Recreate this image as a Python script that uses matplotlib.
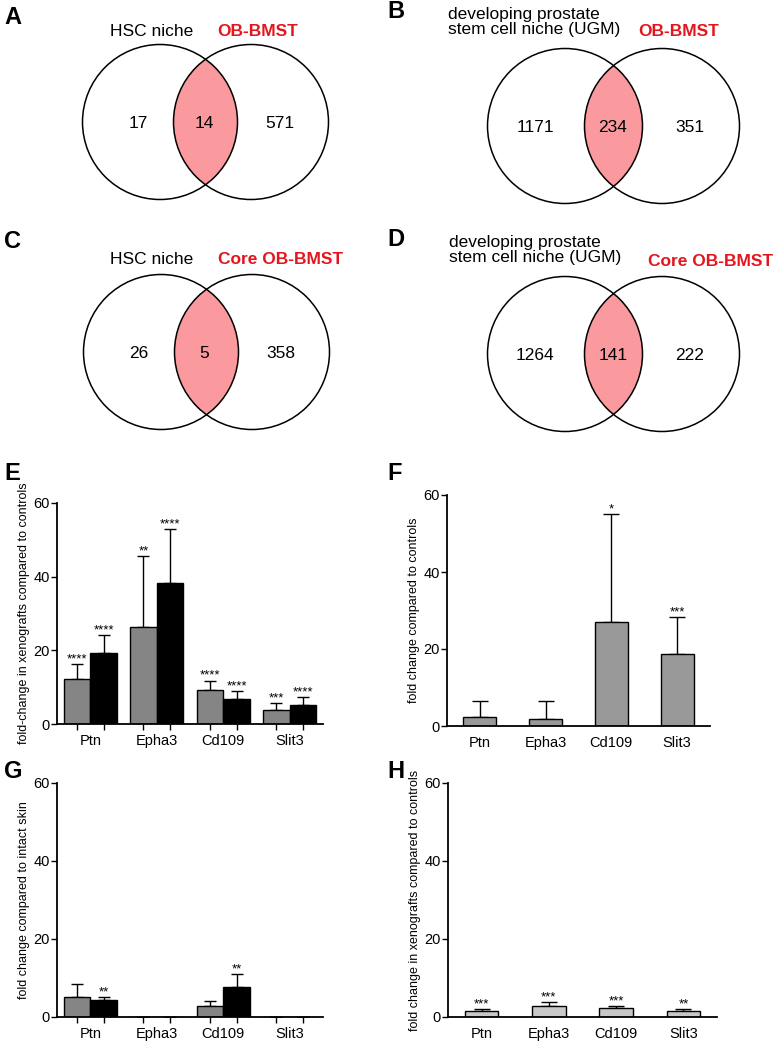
import numpy as np
import matplotlib
matplotlib.use("Agg")
from matplotlib import pyplot as plt
from matplotlib.patches import Circle

plt.rcParams['font.family'] = ['Liberation Sans', 'DejaVu Sans']

# ---- Venn data (A-D)
venn_left_labels = ["HSC niche", "developing prostate\nstem cell niche (UGM)",
                    "HSC niche", "developing prostate\nstem cell niche (UGM)"]
venn_right_labels = ["OB-BMST", "OB-BMST", "Core OB-BMST", "Core OB-BMST"]
only_left = [17, 1171, 26, 1264]
both = [14, 234, 5, 141]
only_right = [571, 351, 358, 222]

# ---- bar data (E-H)
genes = ["Ptn", "Epha3", "Cd109", "Slit3"]
e_grey = [12.3, 26.2, 9.3, 3.9]
e_grey_err = [4.0, 19.3, 2.5, 1.8]
e_black = [19.3, 38.3, 6.9, 5.2]
e_black_err = [4.9, 14.7, 2.1, 2.0]
e_grey_stars = ["****", "**", "****", "***"]
e_black_stars = ["****", "****", "****", "****"]

f_vals = [2.4, 1.8, 27.0, 18.7]
f_err = [4.1, 4.7, 28.0, 9.6]
f_stars = ["", "", "*", "***"]

g_grey = [5.1, 0.0, 2.9, 0.0]
g_grey_err = [3.4, 0.0, 1.1, 0.0]
g_black = [4.3, 0.0, 7.7, 0.0]
g_black_err = [0.8, 0.0, 3.3, 0.0]
g_grey_stars = ["", "", "", ""]
g_black_stars = ["**", "", "**", ""]

h_vals = [1.5, 2.8, 2.2, 1.5]
h_err = [0.5, 1.0, 0.6, 0.5]
h_stars = ["***", "***", "***", "**"]

W, H = 782, 1041
fig = plt.figure(figsize=(W / 100, H / 100), dpi=100)

# overlay axes in pixel coords for venns and panel letters
ov = fig.add_axes([0, 0, 1, 1])
ov.set_xlim(0, W)
ov.set_ylim(H, 0)
ov.axis('off')

pink = '#fa9a9e'
red = '#e3161e'
r = 77.5
centers = [((160, 122), (251, 122)), ((565, 126), (662, 126)),
           ((161, 352), (252, 352)), ((565, 354), (662, 354))]
num_x = [(138, 204, 280), (535, 613, 690), (139, 204, 281), (535, 613, 690)]

for i in range(4):
    (lx, ly), (rx, ry) = centers[i]
    clip = Circle((rx, ry), r, transform=ov.transData)
    lens = Circle((lx, ly), r, fc=pink, ec='none')
    ov.add_patch(lens)
    lens.set_clip_path(clip)
    ov.add_patch(Circle((lx, ly), r, fc='none', ec='black', lw=1.1))
    ov.add_patch(Circle((rx, ry), r, fc='none', ec='black', lw=1.1))
    for x, v in zip(num_x[i], [only_left[i], both[i], only_right[i]]):
        ov.text(x, ly + 1, str(v), ha='center', va='center', fontsize=12.5)

# labels above venns
ov.text(152, 32, venn_left_labels[0], ha='center', va='center', fontsize=12.5)
ov.text(217, 32, venn_right_labels[0], ha='left', va='center', fontsize=12.5,
        color=red, fontweight='bold')
ov.text(448, 22, venn_left_labels[1], ha='left', va='center', fontsize=12.5,
        linespacing=1.05)
ov.text(638, 32, venn_right_labels[1], ha='left', va='center', fontsize=12.5,
        color=red, fontweight='bold')
ov.text(152, 260, venn_left_labels[2], ha='center', va='center', fontsize=12.5)
ov.text(218, 260, venn_right_labels[2], ha='left', va='center', fontsize=12.5,
        color=red, fontweight='bold')
ov.text(449, 250, venn_left_labels[3], ha='left', va='center', fontsize=12.5,
        linespacing=1.05)
ov.text(648, 261, venn_right_labels[3], ha='left', va='center', fontsize=12.5,
        color=red, fontweight='bold')

letters = [("A", 4, 17), ("B", 387, 11), ("C", 4, 242), ("D", 387, 240),
           ("E", 4, 474), ("F", 387, 474), ("G", 4, 771), ("H", 387, 771)]
for t, x, y in letters:
    ov.text(x, y, t, ha='left', va='center', fontsize=17, fontweight='bold')


def px_axes(x0, x1, ytop, ybot):
    return fig.add_axes([x0 / W, 1 - ybot / H, (x1 - x0) / W, (ybot - ytop) / H])


def style(ax, ylabel, ticks_at):
    ax.set_ylim(0, 60)
    ax.set_xlim(-0.5, 3.5)
    ax.set_yticks([0, 20, 40, 60])
    ax.spines['top'].set_visible(False)
    ax.spines['right'].set_visible(False)
    ax.spines['left'].set_linewidth(1.3)
    ax.spines['bottom'].set_linewidth(1.3)
    ax.tick_params(axis='y', labelsize=10.5, length=4, width=1, pad=1)
    x = np.arange(4)
    ax.set_xticks(x)
    ax.set_xticklabels(genes, fontsize=10.5)
    ax.tick_params(axis='x', which='major', length=0, pad=7)
    ax.set_xticks(ticks_at, minor=True)
    ax.tick_params(axis='x', which='minor', length=4, width=1)
    ax.set_ylabel(ylabel, fontsize=9, labelpad=3)
    ax.patch.set_alpha(0)


def bars(ax, pos, vals, err, color, width, cap, stars):
    ax.bar(pos, vals, width=width, color=color, edgecolor='black', linewidth=1.0, zorder=2)
    ax.errorbar(pos, vals, yerr=[np.zeros(len(vals)), err], fmt='none', ecolor='black',
                elinewidth=1.0, capsize=cap, capthick=1.0, zorder=1)
    for p, v, e, s in zip(pos, vals, err, stars):
        if s:
            ax.annotate(s, (p, v + e), xytext=(0, -1), textcoords='offset points',
                        ha='center', va='bottom', fontsize=9.5)


x = np.arange(4)

# E
axE = px_axes(57, 323, 503, 724)
bars(axE, x - 0.2, e_grey, e_grey_err, '#858585', 0.4, 4.5, e_grey_stars)
bars(axE, x + 0.2, e_black, e_black_err, 'black', 0.4, 4.5, e_black_stars)
style(axE, "fold-change in xenografts compared to controls",
      np.concatenate([x - 0.2, x + 0.2]))

# F
axF = px_axes(447, 710, 495, 726)
bars(axF, x, f_vals, f_err, '#999999', 0.5, 6, f_stars)
style(axF, "fold change compared to controls", x)

# G
axG = px_axes(57, 323, 783, 1017)
bars(axG, x - 0.2, g_grey, g_grey_err, '#858585', 0.4, 4.5, g_grey_stars)
bars(axG, x + 0.2, g_black, g_black_err, 'black', 0.4, 4.5, g_black_stars)
style(axG, "fold change compared to intact skin", np.concatenate([x - 0.2, x + 0.2]))

# H
axH = px_axes(448, 717, 783, 1017)
bars(axH, x, h_vals, h_err, '#c8c8c8', 0.5, 6, h_stars)
style(axH, "fold change in xenografts compared to controls", x)

fig.savefig("out.png", dpi=100)
